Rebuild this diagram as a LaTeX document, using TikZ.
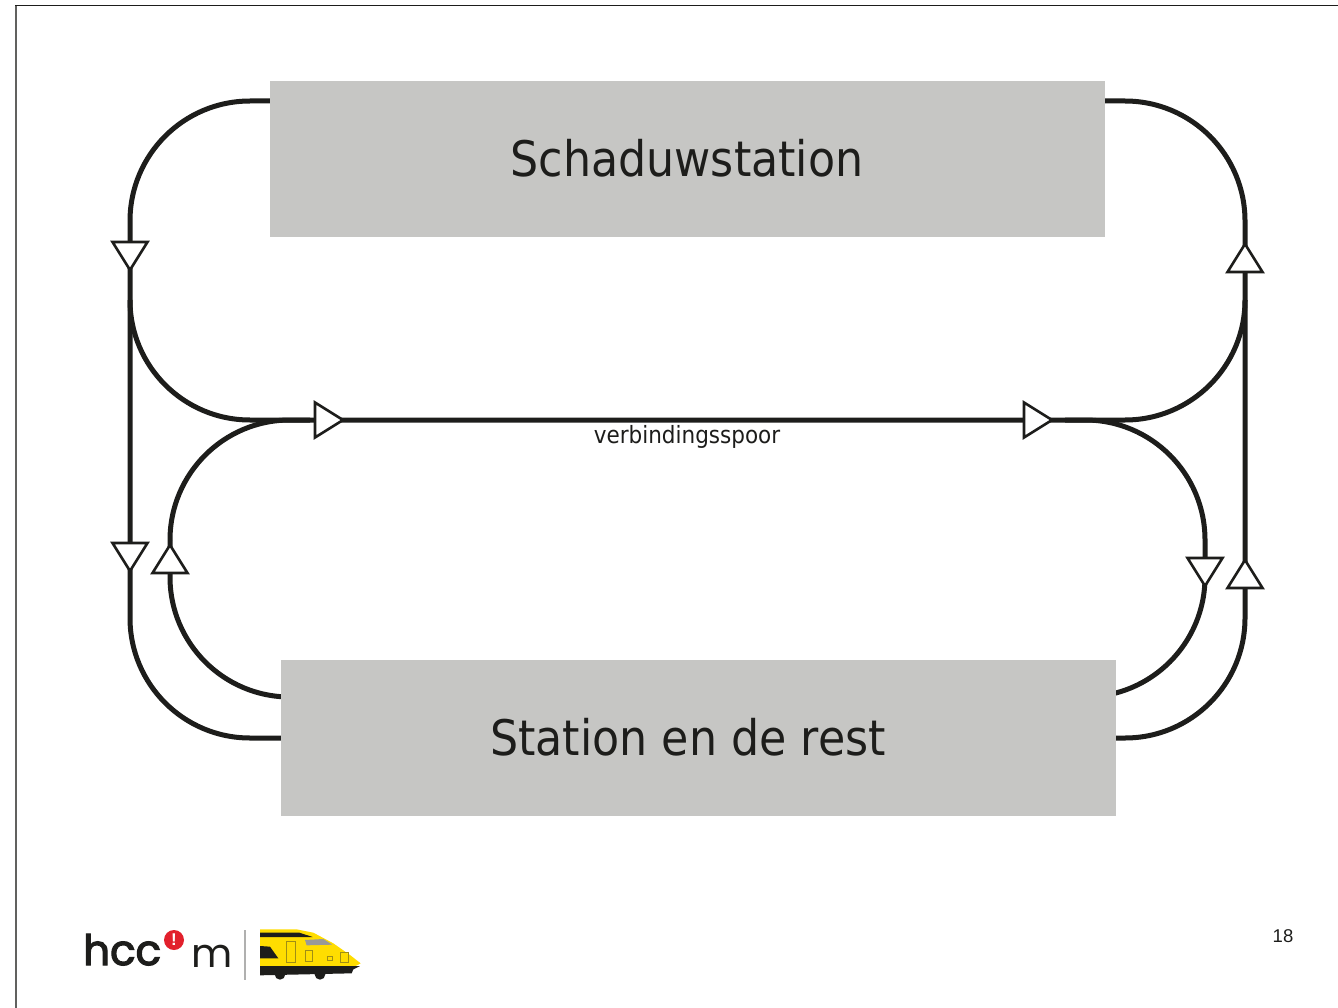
\documentclass[tikz,border=0pt]{standalone}
\usepackage{fontspec}
\setmainfont[FakeStretch=0.905]{DejaVu Sans}
\newfontfamily\logofont{Poppins}
\newfontfamily\hccfont[FakeBold=3]{Poppins}
\newfontfamily\numfont{Liberation Sans}
\definecolor{ink}{HTML}{1D1D1B}
\definecolor{boxgray}{HTML}{C6C6C4}
\definecolor{trainyellow}{HTML}{FFDD00}
\definecolor{trainline}{HTML}{A08E14}
\definecolor{logored}{HTML}{E2202C}
\tikzset{
  track/.style={draw=ink,line width=5pt,line join=round},
  stationbox/.style={fill=boxgray,draw=none,minimum width=835pt,minimum height=156pt,inner sep=0pt},
  stationlabel/.style={text=ink,inner sep=0pt,font=\fontsize{49}{53}\selectfont},
  tracklabel/.style={text=ink,inner sep=0pt,font=\fontsize{23.8}{26}\selectfont},
  pics/flow/.style={code={\draw[draw=ink,fill=white,line width=2.6pt,line join=miter] (-28,-17.5) -- (0,0) -- (-28,17.5) -- cycle;}}
}
\begin{document}
\begin{tikzpicture}[x=1pt,y=-1pt]
\useasboundingbox (0,0) rectangle (1338,1008);
\fill[white] (0,0) rectangle (1338,1008);
\draw[draw=ink!70,line width=1.6pt] (16,1008) -- (16,5.5);
\draw[draw=ink,line width=1.2pt] (15,5.5) -- (1338,5.5);
% anchors
\coordinate (tlstart) at (270,101);
\coordinate (trstart) at (1105,101);
\coordinate (tlbend) at (250,101);
\coordinate (trbend) at (1125,101);
\coordinate (lsplit) at (130,300);
\coordinate (rsplit) at (1245,300);
\coordinate (lin) at (170,540);
\coordinate (rin) at (1205,540);
\coordinate (llow) at (170,577);
\coordinate (rlow) at (1205,577);
\coordinate (lout) at (130,618);
\coordinate (rout) at (1245,618);
\coordinate (lmerge) at (1125,420);
% tracks
\draw[track] (tlstart) -- (tlbend) arc[start angle=90,end angle=180,radius=120pt] -- (lout) arc[start angle=180,end angle=270,radius=120pt] -- ++(35,0);
\draw[track] (trstart) -- (trbend) arc[start angle=90,end angle=0,radius=120pt] -- (rout) arc[start angle=0,end angle=-90,radius=120pt] -- ++(-35,0);
\draw[track] (lsplit) arc[start angle=180,end angle=270,radius=120pt] -- (lmerge) arc[start angle=270,end angle=360,radius=120pt];
\draw[track] (lin) arc[start angle=180,end angle=90,radius=120pt] -- ++(20,0);
\draw[track] (rin) arc[start angle=0,end angle=90,radius=120pt] -- ++(-20,0);
\draw[track] (lin) -- (llow) arc[start angle=180,end angle=270,radius=120pt];
\draw[track] (rin) -- (rlow) arc[start angle=0,end angle=-90,radius=120pt];
% boxes
\node[stationbox] (top) at (687.5,159) {};
\node[stationlabel] (toplabel) at (687,158) {Schaduwstation};
\node[stationbox] (bot) at (698.5,738) {};
\node[stationlabel] (botlabel) at (688,737) {Station en de rest};
\node[tracklabel] (verb) at (687,437) {verbindingsspoor};
% arrows
\pic[rotate=-90] at (130,270) {flow};
\pic[rotate=-90] at (130,571) {flow};
\pic[rotate=90] at (170,545) {flow};
\pic at (343,420) {flow};
\pic at (1052,420) {flow};
\pic[rotate=90] at (1245,244) {flow};
\pic[rotate=90] at (1245,560) {flow};
\pic[rotate=-90] at (1205,586) {flow};
% page number
\node[text=ink,inner sep=0pt,font=\numfont\fontsize{18.5}{20}\selectfont] (pagenum) at (1283,936) {18};
% logo
\node[anchor=base west,inner sep=0pt,text=ink,font=\hccfont\fontsize{42}{46}\selectfont] (hcc) at (83,965) {hcc};
\node[anchor=base west,inner sep=0pt,text=ink,font=\logofont\fontsize{40}{46}\selectfont] (mm) at (191,967) {m};
\fill[logored] (174,940) circle (10);
\node[text=white,inner sep=0pt,font=\numfont\bfseries\fontsize{17}{18}\selectfont] (bang) at (174,940) {!};
\draw[draw=ink!35,line width=1.6pt] (245,930) -- (245,980);
\begin{scope}[shift={(250,920)},x=0.3333pt,y=-0.3333pt]
\fill[trainyellow] (30,28) -- (140,28) -- (190,38) -- (250,70) -- (300,105) -- (332,130) -- (310,142) -- (30,142) -- cycle;
\fill[ink] (30,38) -- (148,38) -- (188,51) -- (30,51) -- cycle;
\fill[ink] (30,78) -- (60,80) -- (85,115) -- (30,115) -- cycle;
\fill[ink] (30,138) -- (330,138) -- (310,148) -- (305,160) -- (30,166) -- cycle;
\fill[ink] (90,163) circle[radius=16];
\fill[ink] (210,163) circle[radius=16];
\fill[ink!45] (165,60) -- (220,57) -- (247,74) -- (170,76) -- cycle;
\draw[trainline,line width=.8pt] (108,65) rectangle (135,128) (165,90) rectangle (188,124) (232,110) rectangle (248,122) (270,97) rectangle (295,128);
\end{scope}
\end{tikzpicture}
\end{document}
